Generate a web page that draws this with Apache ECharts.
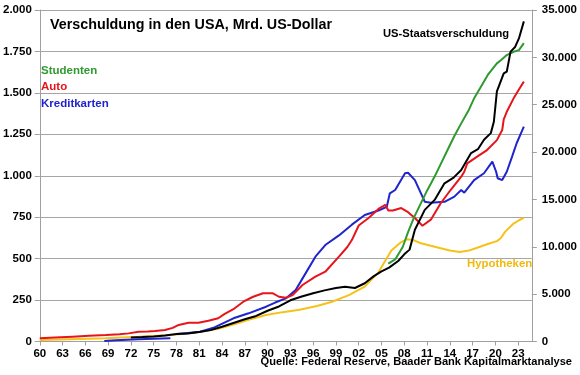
<!DOCTYPE html>
<html>
<head>
<meta charset="utf-8">
<script src="https://cdn.jsdelivr.net/npm/echarts@6/dist/echarts.min.js"></script>
<style>
html,body{margin:0;padding:0;background:#fff;}
#c{width:580px;height:375px;}
</style>
</head>
<body>
<div id="c"></div>
<script>
// ---- Data (Mrd. US-Dollar) ----
const xTickYears = [1960,1963,1966,1969,1972,1975,1978,1981,1984,1987,1990,1993,1996,1999,2002,2005,2008,2011,2014,2017,2020,2023];
const leftTicks = [0,250,500,750,1000,1250,1500,1750,2000];
const rightTicks = [0,5000,10000,15000,20000,25000,30000,35000];

// US-Staatsverschuldung (right axis)
const debtYears = [1972,1973.5,1975,1976.5,1978,1979.5,1981,1982.5,1984,1985.5,1987,1988.5,1990,1991.5,1993,1994.5,1996,1997.5,1999,2000.2,2001.5,2002.8,2004,2005,2006,2007.2,2008,2008.7,2009.4,2010.7,2012,2013.3,2014.5,2015.5,2016.8,2017.7,2018.5,2019.4,2019.8,2020.2,2021.1,2021.5,2022,2022.6,2023.1,2023.75];
const debtValues = [430,470,540,640,780,840,1000,1200,1550,1950,2350,2700,3250,3700,4350,4750,5100,5400,5650,5780,5650,6150,6900,7400,7800,8500,9200,9700,11800,13900,14950,16700,17300,18100,19900,20300,21300,22000,23200,26400,28300,28500,30600,31100,32000,33800];

// Studenten (left axis)
const studYears = [2005.9,2006.8,2007.8,2008.5,2009.3,2010.2,2011,2012,2012.8,2013.7,2014.6,2015.5,2016.5,2017.2,2018,2019,2020.2,2020.8,2021.5,2022.4,2023.1,2023.75];
const studValues = [470,495,570,660,750,835,910,995,1070,1155,1240,1316,1397,1467,1530,1608,1678,1700,1728,1748,1758,1800];

// Auto (left axis)
const autoYears = [1960,1962,1964.3,1966.5,1968.7,1970.5,1971.7,1973,1974.2,1975.2,1976.5,1977.5,1978.3,1979.6,1980.9,1982.2,1983.5,1984.3,1985.5,1986.8,1988.1,1989.4,1990.7,1991.5,1992.4,1993.3,1994.6,1996.3,1997.6,1999.4,2000.5,2001.1,2002,2003.3,2004.6,2005.5,2005.9,2006.5,2007.6,2008.5,2009.4,2010.4,2011.5,2012.8,2014.1,2015.5,2015.9,2016.3,2017.6,2018.9,2020.2,2020.9,2021.1,2021.5,2022.4,2023.1,2023.75];
const autoValues = [19,24,29,34,39,44,49,59,60,63,69,82,100,113,113,125,140,165,195,240,270,291,291,270,264,280,341,391,421,512,570,612,700,745,800,825,790,790,805,780,745,698,735,834,914,994,1024,1075,1115,1155,1215,1276,1340,1386,1467,1520,1568];

// Kreditkarten (left axis), gap 1977-1978
const cardYears = [1968.5,1970,1973,1975,1977.2,1977.6,1978,1979.5,1981.1,1983,1985.5,1987.5,1989.8,1991,1992.4,1993.7,1995,1996.3,1997.6,1999.4,2001.1,2002.8,2004.6,2005.7,2006.1,2006.8,2008.1,2008.5,2009.4,2010.2,2010.7,2011.5,2013.3,2014.6,2015.5,2015.9,2017.2,2018.5,2019.6,2020.1,2020.3,2020.9,2021.5,2022.2,2022.8,2023.75];
const cardValues = [3,8,13,16,19,null,45,52,59,85,140,170,210,235,260,311,411,512,582,640,705,763,790,813,894,914,1015,1018,974,894,843,837,843,874,914,898,974,1015,1085,1024,985,974,1024,1115,1196,1296];

// Hypotheken (right axis)
const mortYears = [1960,1964,1968.7,1973,1977.4,1981,1983.5,1985.5,1987.5,1989.8,1992,1994.2,1996.5,1998.5,2000.7,2002.8,2004.6,2006.3,2007.6,2008.4,2009.2,2010.2,2011.5,2012.8,2014,2015.3,2016.5,2017.6,2019,2020.2,2020.7,2021.3,2022.4,2023.1,2023.75];
const mortValues = [160,250,340,507,690,1000,1350,1800,2300,2800,3100,3350,3750,4200,4900,5800,7300,9600,10500,10800,10700,10370,10100,9840,9600,9450,9600,9900,10300,10600,10900,11600,12450,12800,13050];

function pairs(xs, ys){ return xs.map((x,i)=> [x, ys[i]]); }
function de(v){ return String(v).replace(/\B(?=(\d{3})+(?!\d))/g, '.'); }

const C_GREEN = '#2f9a2f', C_RED = '#e8141c', C_BLUE = '#1f24cc', C_GOLD = '#f5c21b', C_BLACK = '#000000';
const FONT = 'Liberation Sans, Arial, sans-serif';

const chart = echarts.init(document.getElementById('c'), null, {renderer:'canvas'});
const axisGray = '#a0a0a0';
chart.setOption({
  animation: false,
  backgroundColor: '#ffffff',
  grid: {left: 38, right: 45, top: 10, bottom: 33.5, containLabel: false},
  xAxis: {
    type: 'value', min: 1960, max: 2024.8,
    axisLine: {show: true, lineStyle: {color: axisGray, width: 1}},
    axisTick: {show: true, length: 4, inside: false, customValues: xTickYears, lineStyle: {color: axisGray}},
    axisLabel: {customValues: xTickYears, margin: 6, fontFamily: FONT, fontWeight: 'bold', fontSize: 11.5, color: '#000',
      formatter: v => String(Math.round(v) % 100).padStart(2,'0')},
    splitLine: {show: false}
  },
  yAxis: [
    {type: 'value', min: 0, max: 2000, interval: 250, position: 'left',
     axisLine: {show: true, lineStyle: {color: axisGray}},
     axisTick: {show: true, length: 5, lineStyle: {color: axisGray}},
     axisLabel: {margin: 8, fontFamily: FONT, fontWeight: 'bold', fontSize: 11.5, color: '#000', formatter: v => de(v)},
     splitLine: {show: true, lineStyle: {color: '#a6a6a6', width: 1}}},
    {type: 'value', min: 0, max: 35000, interval: 5000, position: 'right',
     axisLine: {show: true, lineStyle: {color: axisGray}},
     axisTick: {show: true, length: 5, lineStyle: {color: axisGray}},
     axisLabel: {margin: 10, fontFamily: FONT, fontWeight: 'bold', fontSize: 11.5, color: '#000', formatter: v => de(v)},
     splitLine: {show: false}}
  ],
  series: [
    {name: 'Hypotheken', type: 'line', yAxisIndex: 1, data: pairs(mortYears, mortValues), showSymbol: false, lineStyle: {color: C_GOLD, width: 2}, itemStyle:{color:C_GOLD}},
    {name: 'Kreditkarten', type: 'line', yAxisIndex: 0, data: pairs(cardYears, cardValues), showSymbol: false, connectNulls: false, lineStyle: {color: C_BLUE, width: 2}, itemStyle:{color:C_BLUE}},
    {name: 'Auto', type: 'line', yAxisIndex: 0, data: pairs(autoYears, autoValues), showSymbol: false, lineStyle: {color: C_RED, width: 2}, itemStyle:{color:C_RED}},
    {name: 'Studenten', type: 'line', yAxisIndex: 0, data: pairs(studYears, studValues), showSymbol: false, lineStyle: {color: C_GREEN, width: 2}, itemStyle:{color:C_GREEN}},
    {name: 'US-Staatsverschuldung', type: 'line', yAxisIndex: 1, data: pairs(debtYears, debtValues), showSymbol: false, lineStyle: {color: C_BLACK, width: 2}, itemStyle:{color:C_BLACK}}
  ],
  graphic: [
    {type: 'text', left: 50, top: 18, style: {text: 'Verschuldung in den USA, Mrd. US-Dollar', font: 'bold 14.3px ' + FONT, fill: '#000'}},
    {type: 'text', left: 41, top: 65, style: {text: 'Studenten', font: 'bold 11.5px ' + FONT, fill: C_GREEN}},
    {type: 'text', left: 41, top: 81, style: {text: 'Auto', font: 'bold 11.5px ' + FONT, fill: C_RED}},
    {type: 'text', left: 41, top: 97.5, style: {text: 'Kreditkarten', font: 'bold 11.5px ' + FONT, fill: C_BLUE}},
    {type: 'text', left: 383, top: 28.5, style: {text: 'US-Staatsverschuldung', font: 'bold 11.2px ' + FONT, fill: '#000'}},
    {type: 'text', left: 467, top: 258.5, style: {text: 'Hypotheken', font: 'bold 11.4px ' + FONT, fill: '#f0b90b'}},
    {type: 'text', right: 8, top: 356, style: {text: 'Quelle: Federal Reserve, Baader Bank Kapitalmarktanalyse', font: 'bold 11.1px ' + FONT, fill: '#000'}}
  ]
});
</script>
</body>
</html>
